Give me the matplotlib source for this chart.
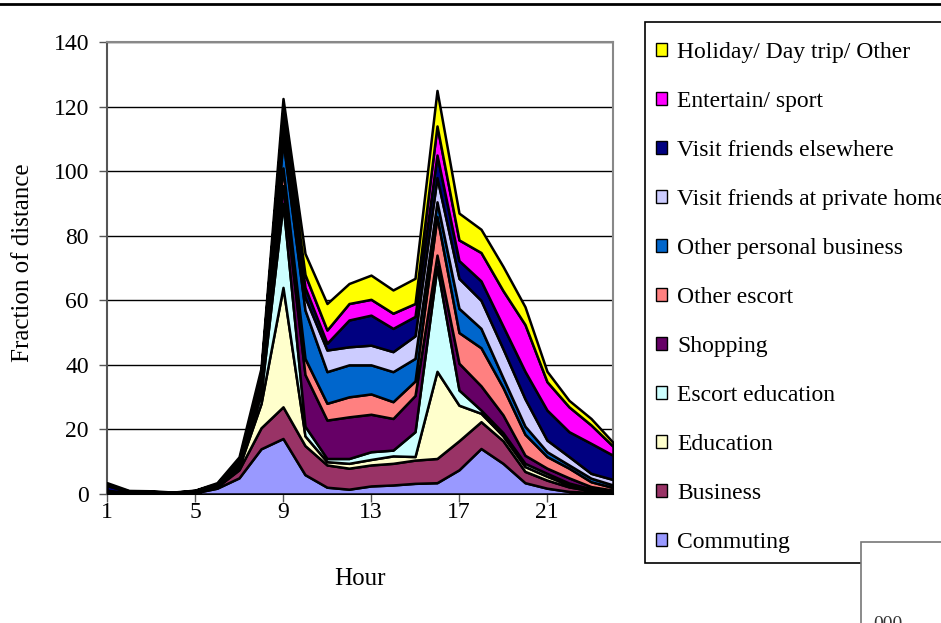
import matplotlib
matplotlib.use("Agg")
import matplotlib.pyplot as plt
from matplotlib.patches import Patch, Rectangle
from matplotlib.lines import Line2D

hours = list(range(1, 25))

# distance share per purpose, by hour of day (stacked bottom to top)
commuting = [0.2, 0.1, 0.1, 0.1, 0.4, 1.8, 5.0, 14.0, 17.2, 6.0, 2.1, 1.5,
             2.5, 2.8, 3.3, 3.5, 7.5, 14.1, 9.5, 3.5, 1.8, 0.8, 0.5, 0.3]
business = [0.1, 0.0, 0.0, 0.0, 0.1, 0.4, 2.5, 6.5, 9.8, 9.0, 6.9, 6.5,
            6.5, 6.7, 7.2, 7.5, 9.0, 8.3, 7.0, 3.5, 2.5, 1.4, 0.5, 0.3]
education = [0.0, 0.0, 0.0, 0.0, 0.0, 0.1, 0.8, 7.5, 37.0, 3.0, 1.0, 1.5,
             1.7, 2.3, 1.1, 27.0, 11.0, 2.6, 1.5, 1.5, 1.2, 0.6, 0.3, 0.2]
escort_education = [0.0, 0.0, 0.0, 0.0, 0.0, 0.1, 0.3, 3.0, 26.0, 3.0, 1.0, 1.5,
                    2.4, 1.8, 7.7, 32.5, 4.7, 1.0, 1.0, 1.0, 0.9, 0.6, 0.3, 0.1]
shopping = [0.1, 0.1, 0.0, 0.0, 0.1, 0.1, 0.4, 2.0, 5.5, 16.0, 11.9, 12.9,
            11.6, 9.8, 11.2, 3.5, 8.3, 7.5, 5.5, 2.5, 1.6, 1.6, 0.7, 0.3]
other_escort = [0.1, 0.0, 0.1, 0.0, 0.1, 0.1, 0.3, 1.5, 5.5, 5.0, 5.2, 6.2,
                6.3, 5.2, 4.5, 12.0, 9.5, 11.8, 8.5, 6.5, 3.6, 3.0, 1.5, 0.8]
personal_business = [0.2, 0.1, 0.1, 0.1, 0.1, 0.2, 0.4, 1.5, 8.5, 15.0, 9.8, 9.9,
                     9.0, 9.3, 7.0, 4.5, 7.5, 6.0, 3.0, 2.5, 1.5, 1.0, 1.1, 0.8]
visit_private = [0.5, 0.1, 0.1, 0.1, 0.1, 0.1, 0.3, 0.7, 3.5, 4.0, 6.7, 5.6,
                 6.1, 6.2, 7.0, 7.5, 9.3, 8.7, 9.0, 8.5, 3.6, 2.6, 1.5, 1.7]
visit_elsewhere = [1.4, 0.3, 0.2, 0.1, 0.1, 0.2, 0.3, 0.5, 3.5, 3.0, 2.1, 8.3,
                   9.3, 7.2, 6.0, 7.0, 5.5, 6.0, 7.0, 8.5, 9.3, 7.7, 9.3, 7.5]
entertain = [0.4, 0.2, 0.2, 0.1, 0.1, 0.1, 0.2, 0.3, 2.5, 4.0, 4.1, 5.1,
             4.9, 4.7, 4.0, 9.0, 6.4, 8.8, 11.0, 14.5, 8.8, 7.7, 5.7, 2.8]
holiday = [0.5, 0.2, 0.2, 0.1, 0.1, 0.3, 1.0, 1.5, 3.5, 6.5, 8.2, 6.2,
           7.5, 7.2, 7.8, 11.0, 8.3, 7.2, 7.5, 5.5, 3.2, 2.0, 2.0, 1.2]

labels = ["Commuting", "Business", "Education", "Escort education", "Shopping",
          "Other escort", "Other personal business", "Visit friends at private home",
          "Visit friends elsewhere", "Entertain/ sport", "Holiday/ Day trip/ Other"]
colors = ["#9999FF", "#993366", "#FFFFCC", "#CCFFFF", "#660066", "#FF8080",
          "#0066CC", "#CCCCFF", "#000080", "#FF00FF", "#FFFF00"]
series = [commuting, business, education, escort_education, shopping, other_escort,
          personal_business, visit_private, visit_elsewhere, entertain, holiday]

plt.rcParams['font.family'] = ['Liberation Serif', 'DejaVu Serif']

W, H = 941, 623
fig = plt.figure(figsize=(W / 100, H / 100), dpi=100)
ax = fig.add_axes([107 / W, 1 - 494 / H, (613 - 107) / W, (494 - 42) / H])

ax.stackplot(hours, series, colors=colors, edgecolor='black', linewidth=1.8, zorder=3)

ax.set_xlim(1, 24)
ax.set_ylim(0, 140)
ax.set_xticks([1, 5, 9, 13, 17, 21])
ax.set_yticks(range(0, 141, 20))
ax.tick_params(labelsize=17, direction='out', length=6, width=1, color='#555555')
ax.tick_params(axis='x', pad=0)
ax.tick_params(axis='y', pad=7)
ax.yaxis.grid(True, color='black', linewidth=1, zorder=1)
ax.set_axisbelow(True)
for side in ['left', 'bottom']:
    ax.spines[side].set_color('#555555')
    ax.spines[side].set_linewidth(1.5)
for side in ['top', 'right']:
    ax.spines[side].set_color('#888888')
    ax.spines[side].set_linewidth(1.5)

ax.set_xlabel('Hour', fontsize=18, va='center')
ax.xaxis.set_label_coords(0.5, (494 - 579) / 452)
ax.set_ylabel('Fraction of distance', fontsize=18, va='center')
ax.yaxis.set_label_coords((23 - 107) / 506, (494 - 263) / 452)

# legend frame drawn separately so it can run past the right edge
fig.add_artist(Rectangle((645 / W, 1 - 563 / H), 0.5, (563 - 22) / H, facecolor='white',
                         edgecolor='black', linewidth=1.2, transform=fig.transFigure,
                         zorder=1))
handles = [Patch(facecolor=c, edgecolor='black', linewidth=1) for c in colors][::-1]
fig.legend(handles, labels[::-1], loc='upper left',
           bbox_to_anchor=(656 / W, 1 - 42 / H), frameon=False,
           fontsize=17, handlelength=0.47, handleheight=0.47, handletextpad=0.42,
           labelspacing=1.185, borderpad=0, borderaxespad=0)

# rule across the top and the corner of a box at bottom right
fig.add_artist(Line2D([0, 1], [1 - 3.5 / H, 1 - 3.5 / H], color='black', linewidth=2))
fig.add_artist(Rectangle((861 / W, -0.1), 0.2, 0.1 + 1 - 542 / H, facecolor='white',
                         edgecolor='#777777', linewidth=1.2, transform=fig.transFigure,
                         zorder=6))
fig.text(873 / W, 1 - 616 / H, '000', fontsize=14, color='#333333', va='top', zorder=7)

fig.savefig('out.png', dpi=100)
